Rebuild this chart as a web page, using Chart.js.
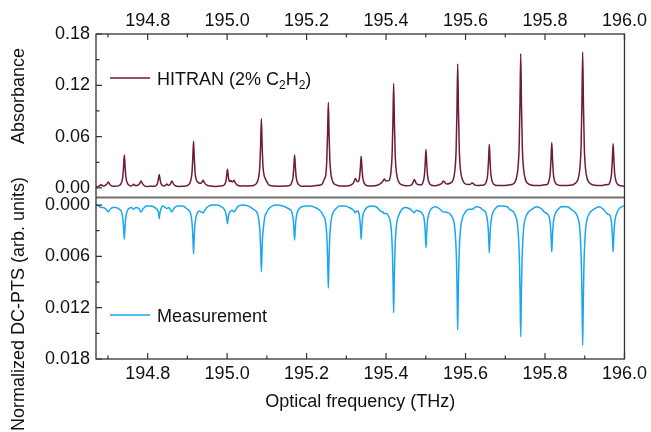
<!DOCTYPE html>
<html><head><meta charset="utf-8">
<script src="https://cdn.jsdelivr.net/npm/chart.js@4.4.1/dist/chart.umd.min.js"></script>
<style>html,body{margin:0;padding:0;background:#fff;}</style>
</head><body>
<canvas id="c" width="651" height="432"></canvas>
<script>
// ---------- data ----------
const freqTicks = [194.8, 195.0, 195.2, 195.4, 195.6, 195.8, 196.0];
const freqMinor = [194.7, 194.9, 195.1, 195.3, 195.5, 195.7, 195.9];
const absTicks = [0, 0.06, 0.12, 0.18];
const absMinor = [0.03, 0.09, 0.15];
const ptsTicks = [0, 0.006, 0.012, 0.018];
const ptsMinor = [0.003, 0.009, 0.015];
const seriesLabels = ['HITRAN (2% C\u2082H\u2082)', 'Measurement'];

// HITRAN absorbance [frequency THz, absorbance]
const hitran = [
[194.670,0.0012],[194.676,0.0018],[194.6805,0.003],[194.6828,0.004],[194.6855,0.0028],[194.689,0.0022],
[194.6975,0.0045],[194.7011,0.007],[194.7045,0.0045],[194.709,0.0025],[194.716,0.0019],[194.7293,0.0031],
[194.7343,0.0064],[194.7373,0.0126],[194.7393,0.024],[194.7413,0.0385],[194.7433,0.024],[194.7453,0.0126],
[194.7483,0.0064],[194.7533,0.0032],[194.759,0.0024],[194.7625,0.0033],[194.7649,0.0044],[194.7675,0.0032],
[194.771,0.0026],[194.7795,0.005],[194.7832,0.008],[194.787,0.005],[194.792,0.0025],[194.800,0.0018],
[194.809,0.0019],[194.8171,0.0019],[194.8221,0.0032],[194.8251,0.0057],[194.8271,0.0105],[194.8291,0.0158],
[194.8311,0.0105],[194.8331,0.0057],[194.8361,0.0032],[194.8411,0.0022],[194.845,0.003],[194.8485,0.0045],
[194.852,0.0032],[194.855,0.0033],[194.8575,0.005],[194.861,0.008],[194.8645,0.005],[194.869,0.0027],
[194.878,0.0018],[194.888,0.0019],[194.8955,0.0022],[194.9035,0.004],[194.9085,0.0087],[194.9115,0.0175],
[194.9135,0.034],[194.9155,0.055],[194.9175,0.034],[194.9195,0.0175],[194.9225,0.0095],[194.9255,0.0072],
[194.929,0.0058],[194.934,0.0055],[194.9365,0.0068],[194.9396,0.009],[194.943,0.006],[194.948,0.0035],
[194.958,0.0022],[194.970,0.0018],[194.981,0.0022],[194.9888,0.0025],[194.9938,0.0041],[194.9968,0.0076],
[194.9988,0.0142],[195.0008,0.022],[195.0028,0.0142],[195.0048,0.0085],[195.0075,0.0075],[195.0091,0.0088],
[195.0125,0.007],[195.015,0.0075],[195.0174,0.009],[195.0205,0.006],[195.025,0.0035],[195.032,0.0022],
[195.041,0.0025],[195.048,0.0022],[195.058,0.0025],[195.0662,0.0029],[195.0742,0.0055],[195.0792,0.0123],
[195.0822,0.025],[195.0842,0.049],[195.0862,0.081],[195.0882,0.049],[195.0902,0.026],[195.0932,0.0145],
[195.0952,0.012],[195.0985,0.0085],[195.104,0.004],[195.112,0.0024],[195.1196,0.0022],[195.130,0.002],
[195.142,0.0022],[195.1498,0.0023],[195.1578,0.0031],[195.1628,0.0064],[195.1658,0.0126],[195.1678,0.024],
[195.1698,0.0385],[195.1718,0.024],[195.1738,0.0126],[195.1768,0.0064],[195.1818,0.0032],[195.1898,0.002],
[195.1974,0.0022],[195.207,0.002],[195.220,0.0026],[195.2347,0.0034],[195.240,0.005],[195.2451,0.011],
[195.2477,0.0135],[195.2507,0.031],[195.2527,0.061],[195.2547,0.100],[195.2567,0.061],[195.2587,0.031],
[195.2617,0.015],[195.2667,0.0065],[195.2745,0.0035],[195.285,0.0022],[195.300,0.0022],[195.312,0.0035],
[195.318,0.006],[195.3229,0.011],[195.327,0.0075],[195.3303,0.0075],[195.3333,0.0125],[195.3353,0.0235],
[195.3373,0.037],[195.3393,0.0235],[195.3413,0.0125],[195.3443,0.0063],[195.3493,0.0032],[195.358,0.0022],
[195.372,0.0025],[195.384,0.0045],[195.3915,0.0075],[195.3957,0.0105],[195.400,0.008],[195.4071,0.0085],
[195.4121,0.018],[195.4151,0.0375],[195.4171,0.074],[195.4191,0.122],[195.4211,0.074],[195.4231,0.0375],
[195.4261,0.018],[195.4311,0.0078],[195.4391,0.0038],[195.452,0.0025],[195.462,0.003],[195.4675,0.006],
[195.4711,0.010],[195.4745,0.0065],[195.478,0.0045],[195.4884,0.0036],[195.4934,0.0073],[195.4964,0.0145],
[195.4984,0.028],[195.5004,0.045],[195.5024,0.028],[195.5044,0.0145],[195.5074,0.0073],[195.5124,0.0035],
[195.522,0.0025],[195.535,0.004],[195.5405,0.0055],[195.5439,0.008],[195.5475,0.0065],[195.5533,0.0045],
[195.5603,0.0055],[195.5683,0.009],[195.5733,0.021],[195.5763,0.0445],[195.5783,0.088],[195.5803,0.145],
[195.5823,0.088],[195.5843,0.0445],[195.5873,0.021],[195.5923,0.0095],[195.6003,0.0045],[195.610,0.004],
[195.6174,0.0058],[195.623,0.0035],[195.632,0.0028],[195.641,0.0032],[195.6478,0.0039],[195.6528,0.008],
[195.6558,0.016],[195.6578,0.0316],[195.6598,0.051],[195.6618,0.0316],[195.6638,0.016],[195.6668,0.008],
[195.6718,0.004],[195.680,0.0028],[195.6927,0.0028],[195.705,0.0032],[195.7189,0.0045],[195.7269,0.0096],
[195.7319,0.023],[195.7349,0.048],[195.7369,0.095],[195.7389,0.157],[195.7409,0.095],[195.7429,0.048],
[195.7459,0.023],[195.7509,0.0096],[195.7589,0.0045],[195.772,0.003],[195.790,0.003],[195.800,0.0038],
[195.805,0.004],[195.810,0.0084],[195.813,0.0169],[195.815,0.0328],[195.817,0.053],[195.819,0.0328],
[195.821,0.0169],[195.824,0.0084],[195.829,0.0042],[195.840,0.003],[195.855,0.003],[195.8685,0.0035],
[195.8748,0.005],[195.8828,0.0098],[195.8878,0.0233],[195.8908,0.0487],[195.8928,0.096],[195.8948,0.159],
[195.8968,0.096],[195.8988,0.0487],[195.9018,0.0233],[195.9068,0.0098],[195.9148,0.0048],[195.930,0.003],
[195.945,0.003],[195.9514,0.0038],[195.9594,0.004],[195.9644,0.0083],[195.9674,0.0166],[195.9694,0.032],
[195.9714,0.052],[195.9734,0.032],[195.9754,0.0166],[195.9784,0.0083],[195.9834,0.004],[195.9914,0.0025],
[196.000,0.002]
];

// Measured normalized DC-PTS signal [frequency THz, signal]
const measurement = [
[194.670,0.0000],[194.677,0.0001],[194.6828,0.0003],[194.688,0.0003],[194.696,0.0005],[194.7011,0.0008],
[194.706,0.0005],[194.712,0.0003],[194.720,0.0003],[194.7293,0.0005],[194.7333,0.0007],[194.7363,0.0012],
[194.7383,0.0019],[194.7398,0.0028],[194.7413,0.0040],[194.7428,0.0028],[194.7443,0.0018],[194.7463,0.0011],
[194.7493,0.0006],[194.7533,0.0004],[194.759,0.0003],[194.7649,0.0005],[194.770,0.0003],[194.778,0.0004],
[194.7832,0.0008],[194.789,0.0004],[194.797,0.0001],[194.807,0.0001],[194.815,0.0002],[194.8211,0.0004],
[194.8251,0.0006],[194.8276,0.0010],[194.8291,0.0016],[194.8306,0.0010],[194.8331,0.0005],[194.838,0.0001],
[194.8485,0.0004],[194.853,0.0003],[194.8565,0.0005],[194.861,0.0008],[194.866,0.0004],[194.874,0.0001],
[194.885,0.0001],[194.893,0.0002],[194.8975,0.0004],[194.9035,0.0006],[194.9075,0.0009],[194.9105,0.0016],
[194.9125,0.0026],[194.914,0.0040],[194.9155,0.0057],[194.917,0.0040],[194.9185,0.0026],[194.9205,0.0017],
[194.9235,0.0011],[194.9255,0.0009],[194.930,0.0007],[194.9345,0.0008],[194.9396,0.0009],[194.944,0.0006],
[194.951,0.0002],[194.962,0.0000],[194.975,0.0000],[194.986,0.0002],[194.9928,0.0005],[194.9958,0.0008],
[194.9978,0.0012],[194.9993,0.0016],[195.0008,0.0022],[195.0023,0.0016],[195.0043,0.0011],[195.007,0.0008],
[195.0091,0.0007],[195.012,0.0006],[195.0174,0.0008],[195.022,0.0005],[195.029,0.0001],[195.040,0.0000],
[195.052,0.0001],[195.060,0.0003],[195.0662,0.0005],[195.0742,0.0008],[195.0782,0.0013],[195.0812,0.0023],
[195.0832,0.0036],[195.0847,0.0055],[195.0862,0.0078],[195.0877,0.0056],[195.0892,0.0038],[195.0915,0.0026],
[195.0952,0.0013],[195.099,0.0009],[195.104,0.0005],[195.114,0.0001],[195.126,0.0000],[195.140,0.0001],
[195.150,0.0003],[195.1578,0.0005],[195.1618,0.0007],[195.1648,0.0012],[195.1668,0.0019],[195.1683,0.0029],
[195.1698,0.0041],[195.1713,0.0029],[195.1728,0.0019],[195.1748,0.0012],[195.1778,0.0007],[195.1838,0.0003],
[195.1974,0.0001],[195.210,0.0001],[195.222,0.0003],[195.230,0.0005],[195.2367,0.0008],[195.2427,0.0013],
[195.2467,0.0017],[195.2497,0.0028],[195.2517,0.0044],[195.2532,0.0068],[195.2547,0.0097],[195.2562,0.0068],
[195.2577,0.0044],[195.2597,0.0027],[195.2627,0.0015],[195.2667,0.0009],[195.2727,0.0005],[195.2827,0.0001],
[195.296,0.0001],[195.308,0.0003],[195.318,0.0006],[195.3229,0.0009],[195.3265,0.0007],[195.3293,0.0007],
[195.3323,0.0011],[195.3343,0.0018],[195.3358,0.0028],[195.3373,0.0040],[195.3388,0.0028],[195.3403,0.0018],
[195.3423,0.0011],[195.3453,0.0007],[195.3513,0.0003],[195.362,0.0001],[195.375,0.0002],[195.386,0.0007],
[195.3915,0.0008],[195.3957,0.0010],[195.4011,0.0010],[195.4071,0.0014],[195.4111,0.0020],[195.4141,0.0035],
[195.4161,0.0057],[195.4176,0.0088],[195.4191,0.0126],[195.4206,0.0088],[195.4221,0.0057],[195.4241,0.0035],
[195.4271,0.0020],[195.4311,0.0013],[195.4371,0.0007],[195.4471,0.0003],[195.458,0.0004],[195.4665,0.0007],
[195.4711,0.0009],[195.476,0.0006],[195.482,0.0007],[195.4874,0.0008],[195.4924,0.0011],[195.4954,0.0015],
[195.4974,0.0023],[195.4989,0.0035],[195.5004,0.0050],[195.5019,0.0035],[195.5034,0.0023],[195.5054,0.0015],
[195.5084,0.0009],[195.5144,0.0004],[195.525,0.0002],[195.536,0.0005],[195.5439,0.0008],[195.549,0.0008],
[195.556,0.0009],[195.5623,0.0011],[195.5683,0.0016],[195.5723,0.0024],[195.5753,0.0042],[195.5773,0.0066],
[195.5788,0.0102],[195.5803,0.0146],[195.5818,0.0102],[195.5833,0.0066],[195.5853,0.0042],[195.5883,0.0024],
[195.5923,0.0015],[195.5983,0.0009],[195.6083,0.0005],[195.6174,0.0005],[195.626,0.0002],[195.637,0.0003],
[195.6418,0.0005],[195.6478,0.0007],[195.6518,0.0010],[195.6548,0.0017],[195.6568,0.0026],[195.6583,0.0039],
[195.6598,0.0056],[195.6613,0.0039],[195.6628,0.0026],[195.6648,0.0017],[195.6678,0.0010],[195.6738,0.0005],
[195.6827,0.0001],[195.6927,0.0001],[195.705,0.0002],[195.7109,0.0005],[195.7209,0.0008],[195.7269,0.0014],
[195.7309,0.0023],[195.7339,0.0043],[195.7359,0.0070],[195.7374,0.0108],[195.7389,0.0154],[195.7404,0.0108],
[195.7419,0.0070],[195.7439,0.0043],[195.7469,0.0024],[195.7509,0.0015],[195.7569,0.0009],[195.7669,0.0005],
[195.778,0.0002],[195.790,0.0004],[195.798,0.0008],[195.805,0.0010],[195.809,0.0012],[195.812,0.0017],
[195.814,0.0026],[195.8155,0.0039],[195.817,0.0055],[195.8185,0.0039],[195.820,0.0026],[195.822,0.0017],
[195.825,0.0011],[195.831,0.0006],[195.842,0.0002],[195.856,0.0002],[195.8685,0.0006],[195.8768,0.0009],
[195.8828,0.0015],[195.8868,0.0024],[195.8898,0.0046],[195.8918,0.0074],[195.8933,0.0115],[195.8948,0.0164],
[195.8963,0.0115],[195.8978,0.0074],[195.8998,0.0046],[195.9028,0.0025],[195.9068,0.0015],[195.9128,0.0009],
[195.9228,0.0005],[195.936,0.0002],[195.947,0.0005],[195.954,0.0009],[195.9594,0.0011],[195.9634,0.0012],
[195.9664,0.0017],[195.9684,0.0026],[195.9699,0.0039],[195.9714,0.0055],[195.9729,0.0039],[195.9744,0.0026],
[195.9764,0.0017],[195.9794,0.0011],[195.9854,0.0005],[195.993,0.0002],[196.000,0.0001]
];

// ---------- style ----------
const FONT = '"Liberation Sans", Arial, sans-serif';
const TXT = '#111111';
const C_HIT = '#6e1a40';
const C_MEAS = '#1ba6f2';

function setTicks(arr){ return s => { s.ticks = arr.map(v => ({value: v})); }; }

const tickFont = {family: FONT, size: 18};

const decor = {
  id: 'decor',
  afterDatasetsDraw(chart) {
    const {ctx, chartArea: a, scales: s} = chart;
    ctx.save();
    // separator between panels
    const sep = Math.round(s.yA.bottom) + 0.5;
    ctx.strokeStyle = '#707070';
    ctx.lineWidth = 2;
    ctx.beginPath(); ctx.moveTo(a.left, sep); ctx.lineTo(a.right, sep); ctx.stroke();
    // frame
    ctx.strokeStyle = '#333333';
    ctx.lineWidth = 1.3;
    ctx.strokeRect(a.left, a.top, a.right - a.left, a.bottom - a.top);
    // inward ticks
    ctx.lineWidth = 1.2;
    const MAJ = 6, MIN = 3.5;
    ctx.beginPath();
    const xt = (vals, len) => vals.forEach(v => {
      const px = s.x.getPixelForValue(v);
      ctx.moveTo(px, a.bottom); ctx.lineTo(px, a.bottom - len);
      const px2 = s.x2.getPixelForValue(v);
      ctx.moveTo(px2, a.top); ctx.lineTo(px2, a.top + len);
    });
    xt(freqTicks, MAJ); xt(freqMinor, MIN);
    const yt = (sc, vals, len) => vals.forEach(v => {
      const py = sc.getPixelForValue(v);
      ctx.moveTo(a.left, py); ctx.lineTo(a.left + len, py);
    });
    yt(s.yA, absTicks, MAJ); yt(s.yA, absMinor, MIN);
    yt(s.yB, ptsTicks, MAJ); yt(s.yB, ptsMinor, MIN);
    ctx.stroke();

    // legends
    const drawLegendLine = (color, y) => {
      ctx.strokeStyle = color; ctx.lineWidth = 1.6;
      ctx.beginPath(); ctx.moveTo(a.left + 14, y); ctx.lineTo(a.left + 54, y); ctx.stroke();
    };
    ctx.fillStyle = TXT;
    ctx.textBaseline = 'alphabetic';
    ctx.textAlign = 'left';
    const ly1 = a.top + 44;
    drawLegendLine(C_HIT, ly1);
    // HITRAN label with real subscripts
    const runs = [['HITRAN (2% C', false], ['2', true], ['H', false], ['2', true], [')', false]];
    let tx = a.left + 61;
    runs.forEach(([t, sub]) => {
      ctx.font = (sub ? '12px ' : '18px ') + FONT;
      ctx.fillText(t, tx, ly1 + 6.5 + (sub ? 4 : 0));
      tx += ctx.measureText(t).width;
    });
    const ly2 = a.top + 281;
    drawLegendLine(C_MEAS, ly2);
    ctx.font = '18px ' + FONT;
    ctx.fillText(seriesLabels[1], a.left + 61, ly2 + 6.5);

    // axis titles
    ctx.textAlign = 'center';
    ctx.textBaseline = 'middle';
    ctx.font = '18px ' + FONT;
    ctx.fillText('Optical frequency (THz)', (a.left + a.right) / 2, 402);
    const vtitle = (t, x, y) => {
      ctx.save(); ctx.translate(x, y); ctx.rotate(-Math.PI / 2);
      ctx.fillText(t, 0, 0); ctx.restore();
    };
    vtitle('Absorbance', 19, 96);
    vtitle('Normalized DC-PTS (arb. units)', 19, 304);
    ctx.restore();
  }
};

const xCommon = (pos, h, pad) => ({
  type: 'linear', position: pos, min: 194.67, max: 196.0,
  afterBuildTicks: setTicks(freqTicks),
  afterFit: s => { s.height = h; },
  grid: {display: false, drawTicks: false},
  border: {display: false},
  ticks: {padding: pad, font: tickFont, color: TXT, maxRotation: 0, autoSkip: false,
          callback: v => Number(v).toFixed(1)}
});

new Chart(document.getElementById('c'), {
  type: 'line',
  data: {
    datasets: [
      {label: seriesLabels[0], data: hitran.map(p => ({x: p[0], y: p[1]})),
       xAxisID: 'x', yAxisID: 'yA', borderColor: C_HIT, borderWidth: 1.5,
       pointRadius: 0, cubicInterpolationMode: 'monotone', fill: false},
      {label: seriesLabels[1], data: measurement.map(p => ({x: p[0], y: p[1]})),
       xAxisID: 'x', yAxisID: 'yB', borderColor: C_MEAS, borderWidth: 1.5,
       pointRadius: 0, cubicInterpolationMode: 'monotone', fill: false}
    ]
  },
  options: {
    responsive: false, animation: false, devicePixelRatio: 1,
    layout: {padding: {left: 0, right: 25, top: 0, bottom: 0}},
    plugins: {legend: {display: false}, tooltip: {enabled: false}},
    scales: {
      x: xCommon('bottom', 73, 4),
      x2: xCommon('top', 34, 2),
      yA: {
        type: 'linear', position: 'left', stack: 'panels', stackWeight: 1, weight: 2,
        min: -0.01, max: 0.18,
        afterBuildTicks: setTicks(absTicks),
        afterFit: s => { s.width = 96; },
        grid: {display: false, drawTicks: false}, border: {display: false},
        ticks: {padding: 6, font: tickFont, color: TXT, callback: v => Number(v).toFixed(2)}
      },
      yB: {
        type: 'linear', position: 'left', stack: 'panels', stackWeight: 1, weight: 1,
        reverse: true, min: -0.001, max: 0.018,
        afterBuildTicks: setTicks(ptsTicks),
        afterFit: s => { s.width = 96; },
        grid: {display: false, drawTicks: false}, border: {display: false},
        ticks: {padding: 6, font: tickFont, color: TXT, callback: v => Number(v).toFixed(3)}
      }
    }
  },
  plugins: [decor]
});
</script>
</body></html>
